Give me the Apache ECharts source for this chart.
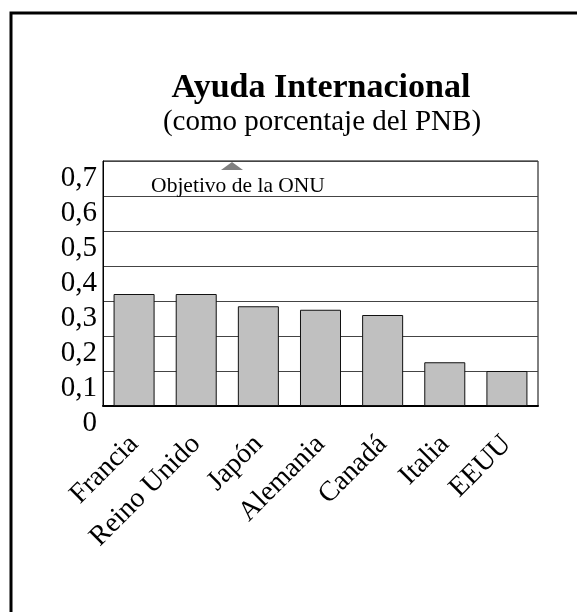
<!DOCTYPE html>
<html>
<head>
<meta charset="utf-8">
<script src="https://cdn.jsdelivr.net/npm/echarts@6/dist/echarts.min.js"></script>
<style>
  html, body { margin: 0; padding: 0; background: #fff; }
  #chart { width: 577px; height: 612px; }
</style>
</head>
<body>
<div id="chart"></div>
<script>
// datos
var paises = ['Francia', 'Reino Unido', 'Japón', 'Alemania', 'Canadá', 'Italia', 'EEUU'];
var ayuda = [0.32, 0.32, 0.285, 0.275, 0.26, 0.125, 0.10];
var objetivoOnu = 0.7;
var yTicks = { min: 0, max: 0.7, interval: 0.1 };

var serif = '"Liberation Serif", "Times New Roman", serif';
var chart = echarts.init(document.getElementById('chart'));

var option = {
  animation: false,
  backgroundColor: '#fff',
  grid: {
    left: 103, right: 39, top: 161, bottom: 206,
    show: true, borderColor: '#000', borderWidth: 1, backgroundColor: 'transparent'
  },
  xAxis: {
    type: 'category',
    data: paises,
    axisLine: { lineStyle: { color: '#000', width: 2 } },
    axisTick: { show: false },
    axisLabel: {
      rotate: 45, margin: 34, color: '#000',
      fontFamily: serif, fontSize: 28, interval: 0
    }
  },
  yAxis: {
    type: 'value',
    min: yTicks.min, max: yTicks.max, interval: yTicks.interval,
    axisLine: { show: true, lineStyle: { color: '#000', width: 1 } },
    axisTick: { show: false },
    splitLine: { lineStyle: { color: '#444', width: 1 } },
    axisLabel: {
      color: '#000', fontFamily: serif, fontSize: 29, margin: 6,
      verticalAlign: 'top', padding: [3, 0, 0, 0],
      formatter: function (v) {
        return v === 0 ? '0' : v.toFixed(1).replace('.', ',');
      }
    }
  },
  series: [{
    type: 'bar',
    data: ayuda,
    barWidth: '66%',
    itemStyle: { color: '#c0c0c0', borderColor: '#111', borderWidth: 1 }
  }]
};
chart.setOption(option);

// objetivo de la ONU: triangulo y texto en el valor 0,7
var yObj = chart.convertToPixel({ yAxisIndex: 0 }, objetivoOnu);
var yRef = chart.convertToPixel({ yAxisIndex: 0 }, 0.6);

chart.setOption({
  graphic: [
    { type: 'rect', shape: { x: 11, y: 13, width: 620, height: 660 },
      style: { fill: 'none', stroke: '#000', lineWidth: 3 }, silent: true },
    { type: 'text', x: 321, y: 88,
      style: { text: 'Ayuda Internacional', font: 'bold 34px ' + serif, fill: '#000',
               align: 'center', verticalAlign: 'middle' } },
    { type: 'text', x: 322, y: 122,
      style: { text: '(como porcentaje del PNB)', font: '29px ' + serif, fill: '#000',
               align: 'center', verticalAlign: 'middle' } },
    { type: 'polygon', shape: { points: [[232, yObj + 1], [221, yObj + 9], [243, yObj + 9]] },
      style: { fill: '#808080' } },
    { type: 'text', x: 238, y: (yObj + yRef) / 2 + 8,
      style: { text: 'Objetivo de la ONU', font: '21.5px ' + serif, fill: '#000',
               align: 'center', verticalAlign: 'middle' } }
  ]
});
</script>
</body>
</html>
